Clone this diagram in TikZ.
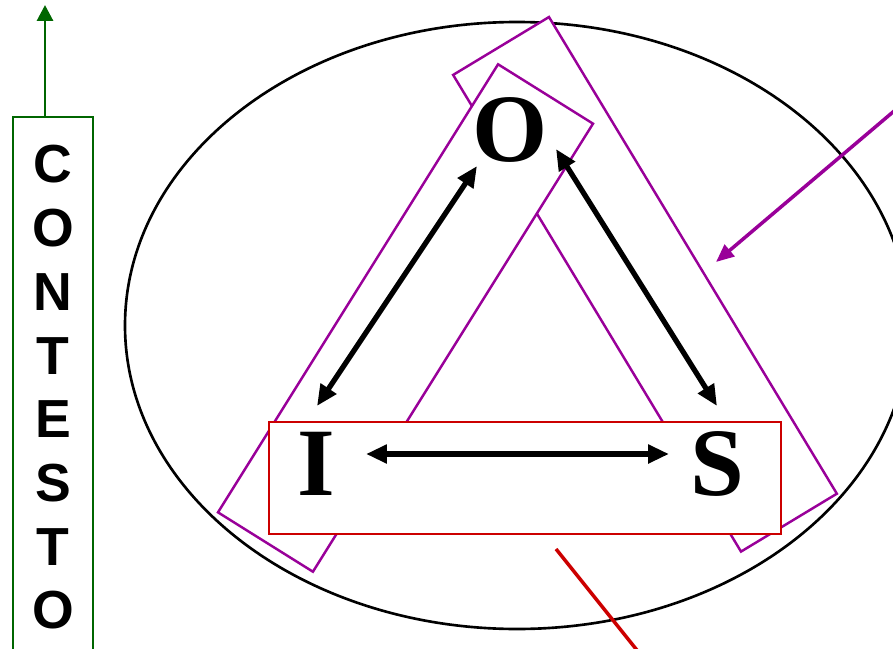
\documentclass[tikz,border=0pt]{standalone}
\usepackage{fontspec}
\setmainfont{Liberation Serif}
\newfontfamily\ctxfont{Liberation Sans}
\usetikzlibrary{arrows.meta}
\definecolor{ctxgreen}{RGB}{0,102,0}
\definecolor{bandpurple}{RGB}{153,0,153}
\definecolor{basered}{RGB}{204,0,0}

\begin{document}
\begin{tikzpicture}[x=0.02cm,y=-0.02cm,
  big/.style={font=\fontsize{55}{60}\selectfont\bfseries,inner sep=0pt},
  ctxletter/.style={font=\ctxfont\fontsize{30.5}{34}\selectfont\bfseries,inner sep=0pt},
  band/.style={draw=bandpurple,line width=1.4pt,fill=white,minimum height=2.24cm,inner sep=0pt},
  dbl/.style={{Triangle[length=0.42cm,width=0.36cm]}-{Triangle[length=0.42cm,width=0.36cm]},line width=3pt}]
\useasboundingbox (0,0) rectangle (893,649);
\clip (0,0) rectangle (893,649);
% context
\node[draw=ctxgreen,line width=1.5pt,minimum width=1.6cm,minimum height=10.96cm,inner sep=0pt] (ctx) at (53,391) {};
\foreach \l [count=\i from 0] in {C,O,N,T,E,S,T,O}
  \node[ctxletter] (c\i) at (53,164.5+63.7*\i) {\l};
\coordinate (ctxtip) at (45,5);
\draw[ctxgreen,line width=1.7pt,-{Triangle[length=0.32cm,width=0.32cm]}] (ctxtip |- ctx.north) -- (ctxtip);
% ellipse and bands
\draw[line width=1.5pt] (517,325.5) ellipse [x radius=392, y radius=303.5];
\node[band,rotate=-58.87,minimum width=11.14cm] (bandOS) at (645,284.3) {};
\node[band,rotate=57.99,minimum width=10.57cm] (bandIO) at (405.5,318) {};
\node[draw=basered,line width=1.6pt,fill=white,minimum width=10.24cm,minimum height=2.24cm,inner sep=0pt] (base) at (525,478) {};
% triangle
\node[big] (O) at (510,129.5) {O};
\node[big] (I) at (316,464) {I};
\node[big] (S) at (717,464) {S};
\coordinate (IOlow) at (317,406);
\coordinate (IOhigh) at (477,166);
\coordinate (OShigh) at (556,149);
\coordinate (OSlow) at (717,406);
\coordinate (ISleft) at (366,454);
\coordinate (ISright) at (669,454);
\draw[dbl] (IOlow) -- (IOhigh);
\draw[dbl] (OShigh) -- (OSlow);
\draw[dbl] (ISleft) -- (ISright);
% pointers
\coordinate (bandnote) at (905,101.8);
\coordinate (bandpt) at (716,262);
\draw[bandpurple,line width=2pt,-{Triangle[length=0.36cm,width=0.3cm]}] (bandnote) -- (bandpt);
\coordinate (basept) at (556,549);
\coordinate (basenote) at (644,659);
\draw[basered,line width=2pt] (basept) -- (basenote);
\end{tikzpicture}
\end{document}
